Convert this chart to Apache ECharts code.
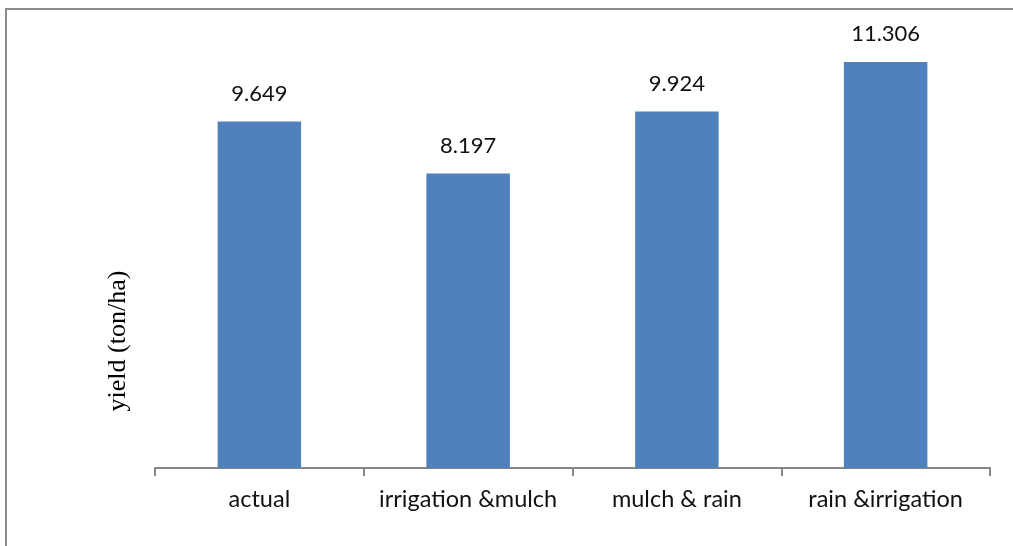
<!DOCTYPE html>
<html>
<head>
<meta charset="utf-8">
<script src="https://cdn.jsdelivr.net/npm/echarts@6/dist/echarts.min.js"></script>
<style>
  html, body { margin: 0; padding: 0; background: #ffffff; }
  #frame {
    position: absolute; left: 5px; top: 8px; width: 1008px; height: 538px;
    border-left: 2px solid #8c8c8c; border-top: 2px solid #8c8c8c;
  }
  #chart { position: absolute; left: 0; top: 0; width: 1013px; height: 546px; }
</style>
</head>
<body>
<div id="frame"></div>
<div id="chart"></div>
<script>
// Yield by treatment combination
const categories = ['actual', 'irrigation &mulch', 'mulch & rain', 'rain &irrigation'];
const yieldValues = [9.649, 8.197, 9.924, 11.306];
const axisTitle = 'yield (ton/ha)';

const chart = echarts.init(document.getElementById('chart'), null, { renderer: 'canvas' });
chart.setOption({
  animation: false,
  backgroundColor: 'transparent',
  grid: { left: 155, right: 23, top: 37, bottom: 78, containLabel: false },
  xAxis: {
    type: 'category',
    data: categories,
    axisLine: { lineStyle: { color: '#868686', width: 2 } },
    axisTick: { show: true, interval: 0, length: 8, lineStyle: { color: '#868686', width: 2 } },
    axisLabel: { interval: 0, color: '#111111', fontSize: 23.5, fontFamily: 'Lato', margin: 19 }
  },
  yAxis: {
    type: 'value',
    min: 0, max: 12,
    axisLine: { show: false },
    axisTick: { show: false },
    axisLabel: { show: false },
    splitLine: { show: false }
  },
  // rotated y-axis title, sitting a little below the middle of the plot
  graphic: [{
    type: 'text',
    x: 118, y: 341,
    rotation: Math.PI / 2,
    style: {
      text: axisTitle,
      fill: '#000000',
      font: '26px "Liberation Serif"',
      align: 'center',
      verticalAlign: 'middle'
    }
  }],
  series: [{
    type: 'bar',
    data: yieldValues,
    barWidth: '40%',
    itemStyle: { color: '#4F81BD' },
    label: {
      show: true,
      position: 'top',
      distance: 17,
      color: '#111111',
      fontSize: 22,
      fontFamily: 'Lato',
      formatter: p => p.value.toFixed(3)
    }
  }]
});
</script>
</body>
</html>
